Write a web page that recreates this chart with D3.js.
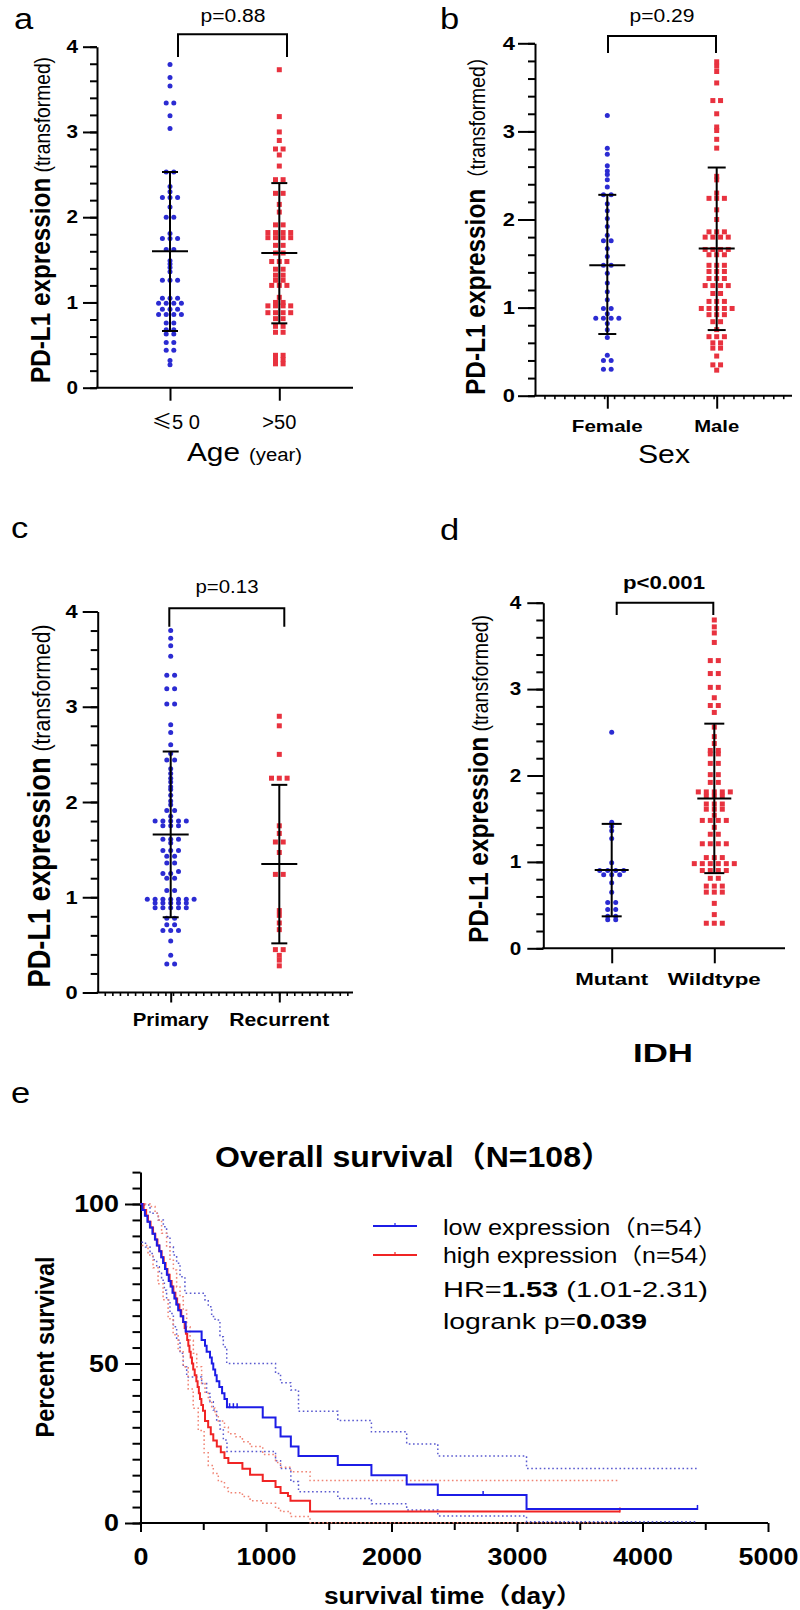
<!DOCTYPE html>
<html><head><meta charset="utf-8">
<script src="https://cdn.jsdelivr.net/npm/d3@7"></script>
<style>
body{margin:0;background:#fff;}
svg{display:block;}
</style></head><body>
<svg id="c" width="800" height="1610"></svg>
<script>
// ---------------- DATA ----------------
const yTicks = [0, 1, 2, 3, 4];

const ageCats = ["≤5 0", ">50"];
const ageLow = [3.79,3.64,3.54,3.34,3.34,3.19,3.04,2.53,2.53,2.36,2.30,2.23,2.23,2.23,2.12,2.00,2.00,1.81,1.75,1.75,1.75,1.62,1.62,1.49,1.45,1.41,1.36,1.26,1.26,1.26,1.05,1.05,1.05,0.99,0.99,0.99,0.99,0.92,0.92,0.92,0.86,0.86,0.86,0.86,0.76,0.76,0.68,0.68,0.63,0.63,0.53,0.53,0.44,0.44,0.32,0.27];
const ageHigh = [3.73,3.18,3.00,2.90,2.80,2.80,2.73,2.60,2.44,2.44,2.28,2.28,2.15,2.06,1.91,1.91,1.82,1.82,1.82,1.82,1.76,1.76,1.76,1.76,1.67,1.67,1.58,1.58,1.48,1.48,1.48,1.39,1.39,1.32,1.32,1.26,1.26,1.20,1.20,1.20,1.06,1.00,1.00,0.96,0.96,0.96,0.96,0.88,0.88,0.88,0.88,0.81,0.81,0.72,0.72,0.65,0.65,0.38,0.38,0.33,0.33,0.28,0.28];
const ageMean = [1.60, 1.58], ageSdLow = [0.665, 0.755], ageSdHigh = [2.53, 2.40];

const sexCats = ["Female", "Male"];
const sexF = [3.18,2.81,2.74,2.61,2.55,2.51,2.45,2.37,2.28,2.28,2.18,2.10,2.01,1.92,1.82,1.76,1.76,1.67,1.58,1.48,1.48,1.39,1.28,1.18,1.09,0.99,0.99,0.93,0.88,0.88,0.88,0.88,0.82,0.75,0.66,0.46,0.40,0.40,0.30,0.30];
const sexM = [3.79,3.74,3.68,3.55,3.35,3.35,3.20,3.05,3.01,2.91,2.81,2.49,2.45,2.30,2.24,2.24,2.24,2.11,2.00,1.86,1.86,1.86,1.80,1.80,1.80,1.80,1.66,1.66,1.66,1.66,1.60,1.60,1.60,1.48,1.48,1.48,1.41,1.41,1.41,1.33,1.33,1.33,1.25,1.25,1.25,1.25,1.16,1.16,1.07,1.07,1.07,0.99,0.99,0.99,0.99,0.99,0.92,0.92,0.92,0.84,0.84,0.75,0.67,0.67,0.67,0.60,0.60,0.54,0.54,0.45,0.35,0.35,0.29];
const sexMean = [1.48, 1.67], sexSdLow = [0.70, 0.745], sexSdHigh = [2.28, 2.59];

const typeCats = ["Primary", "Recurrent"];
const typeP = [3.80,3.72,3.64,3.53,3.33,3.33,3.19,3.19,3.03,3.03,2.81,2.73,2.60,2.51,2.44,2.44,2.35,2.30,2.25,2.21,2.16,2.13,2.07,2.01,1.97,1.91,1.91,1.85,1.80,1.80,1.80,1.80,1.80,1.75,1.75,1.75,1.61,1.61,1.61,1.57,1.49,1.49,1.49,1.43,1.43,1.36,1.36,1.27,1.25,1.25,1.20,1.20,1.07,1.07,0.98,0.98,0.98,0.98,0.98,0.98,0.98,0.94,0.94,0.94,0.94,0.94,0.89,0.89,0.89,0.89,0.89,0.78,0.78,0.71,0.71,0.65,0.65,0.65,0.54,0.39,0.30,0.30];
const typeR = [2.90,2.80,2.50,2.25,2.25,2.25,1.75,1.67,1.58,1.58,1.47,1.24,1.24,0.86,0.81,0.73,0.66,0.45,0.45,0.39,0.34,0.28];
const typeMean = [1.66, 1.35], typeSdLow = [0.79, 0.516], typeSdHigh = [2.53, 2.18];

const idhCats = ["Mutant", "Wildtype"];
const idhMut = [2.50,1.46,1.41,1.36,1.27,0.99,0.90,0.90,0.90,0.90,0.85,0.85,0.85,0.76,0.65,0.53,0.53,0.45,0.45,0.37,0.37,0.33,0.33];
const idhWt = [3.80,3.72,3.65,3.54,3.33,3.33,3.18,3.18,3.02,3.02,2.90,2.81,2.81,2.73,2.56,2.45,2.37,2.29,2.29,2.25,2.25,2.14,2.14,2.01,2.01,1.92,1.92,1.81,1.81,1.81,1.81,1.81,1.76,1.76,1.76,1.67,1.67,1.67,1.61,1.61,1.61,1.54,1.48,1.48,1.48,1.48,1.40,1.32,1.32,1.21,1.21,1.21,1.21,1.05,1.05,1.05,0.98,0.98,0.98,0.98,0.98,0.98,0.90,0.90,0.90,0.90,0.81,0.81,0.72,0.72,0.72,0.65,0.65,0.65,0.52,0.39,0.29,0.29,0.29];
const idhMean = [0.907, 1.735], idhSdLow = [0.37, 0.87], idhSdHigh = [1.44, 2.60];

// Kaplan-Meier (time in days, percent survival)
const kmXTicks = [0, 1000, 2000, 3000, 4000, 5000];
const kmYTicks = [0, 50, 100];
const lowTime = [0,15,35,55,75,95,115,130,150,165,180,195,210,225,240,255,270,285,300,320,340,360,487,514,527,554,568,580,595,607,628,650,669,689,974,1076,1116,1198,1259,1572,1840,2121,2369,3076];
const lowSurv = [100,98.1,96.3,94.4,92.6,90.7,88.9,87.0,85.2,83.3,81.5,79.6,77.8,75.9,74.1,72.2,70.4,68.5,66.7,64.8,63.0,60.0,57.4,55.6,53.7,51.9,50.0,48.1,46.3,44.4,42.6,40.7,38.9,36.3,33.1,30.0,27.1,24.0,21.0,18.2,15.0,12.1,8.8,4.4];
const lowEnd = 4438;
const lowCensor = [710, 740, 770, 2730, 4438];
const highTime = [0,25,45,60,80,100,118,135,150,168,185,200,215,232,248,262,278,292,310,325,340,352,362,372,381,390,400,410,420,432,445,455,465,474,485,498,514,539,560,580,608,640,669,700,812,873,974,1076,1116,1175,1195,1351];
const highSurv = [100,98.1,96.3,94.4,92.6,90.7,88.9,87.0,85.2,83.3,81.5,79.6,77.8,75.9,74.1,72.2,70.4,68.5,66.7,64.8,63.0,61.1,59.3,57.4,55.6,53.7,51.9,50.0,48.1,46.3,44.4,42.6,40.7,38.9,37.0,35.2,32.0,30.0,27.8,25.9,24.0,22.2,20.4,18.8,17.0,15.1,13.2,11.3,9.4,8.5,7.0,3.6];
const highEnd = 3820;
const highCensor = [3820];
const lowUpperTime = [0,22,76,142,182,208,235,262,288,315,354,514,540,567,594,633,660,687,1076,1116,1198,1259,1572,1840,2121,2369,3076];
const lowUpperSurv = [100,99.7,97.1,95.0,92.9,89.8,86.6,84.0,81.4,77.2,72.0,69.9,67.8,64.7,63.6,58.4,55.2,50.0,46.9,44.0,41.7,35.0,32.1,28.6,24.8,21.0,17.1];
const lowLowerTime = [8,40,76,100,129,150,168,190,208,235,262,288,315,341,368,487,527,554,580,607,633,660,689,1076,1116,1198,1259,1572,1840,2121,2369,3076];
const lowLowerSurv = [88,86.5,84.5,82.5,80.3,78.5,76.1,73.0,69.9,65.7,61.5,57.3,53.2,49.0,45.8,43.7,40.6,38.0,35.4,32.0,29.5,26.0,22.4,19.5,17.1,13.0,9.8,7.7,6.0,4.1,2.2,0.4];
const highUpperTime = [0,76,116,142,168,208,235,262,288,315,341,368,395,421,448,487,514,540,567,594,620,669,700,760,812,873,974,1076,1116,1198,1351];
const highUpperSurv = [100,99.2,97.1,95.0,90.8,86.6,82.4,79.3,74.0,70.9,66.7,61.5,57.3,53.2,49.0,43.7,41.0,38.5,36.0,34.0,32.0,30.0,28.0,27.0,25.5,24.0,21.5,19.0,17.5,16.1,13.3];
const highLowerTime = [10,60,100,140,180,220,260,300,340,380,420,460,507,540,580,620,669,700,812,873,974,1076,1116,1195,1351];
const highLowerSurv = [87,84,80,75,70,64,59,54,49,42,36,29,22,18,15.5,13,11,9.5,8.3,7.0,6.2,4.6,3.6,2.0,0.1];

// ---------------- DRAWING ----------------
const FONT = 'Arial, "Liberation Sans", "Noto Sans CJK SC", sans-serif';
const BLUE = "#2b2bd2", RED = "#e8323f";
const svg = d3.select("#c").attr("font-family", FONT);

function fitText(sel, len) {
  if (len) sel.attr("textLength", len).attr("lengthAdjust", "spacingAndGlyphs");
  return sel;
}
function stretch(sel, k) {
  sel.each(function () {
    const L = this.getComputedTextLength();
    d3.select(this).attr("textLength", L * k).attr("lengthAdjust", "spacingAndGlyphs");
  });
}
function label(g, str, x, y, o) {
  const t = g.append("text").attr("x", x).attr("y", y)
    .attr("text-anchor", o.anchor || "middle")
    .attr("font-size", o.size).attr("font-weight", o.weight || "normal")
    .attr("fill", "#000").text(str);
  fitText(t, o.len);
  if (!o.len && o.k) stretch(t, o.k);
  return t;
}

function swarm(vals, y, cx, colW, thr) {
  const s = vals.slice().sort((a, b) => a - b);
  const rows = []; let cur = null;
  s.forEach(v => {
    if (cur && Math.abs(y(v) - y(cur[0])) <= thr) cur.push(v);
    else { cur = [v]; rows.push(cur); }
  });
  const pts = [];
  rows.forEach(r => r.forEach((v, i) => pts.push({ v, x: cx + (i - (r.length - 1) / 2) * colW, y: y(v) })));
  return pts;
}

function strip(c) {
  const g = svg.append("g");
  const y = d3.scaleLinear().domain([0, 4]).range([c.y0, c.y4]);
  const x = d3.scalePoint().domain(c.cats).range(c.catX);

  const mn = g.append("g").attr("transform", `translate(${c.ax},0)`)
    .call(d3.axisLeft(y).tickValues(d3.range(0, 4.001, 0.2)).tickSize(7).tickSizeOuter(0).tickFormat(""));
  mn.select(".domain").remove();
  const mj = g.append("g").attr("transform", `translate(${c.ax},0)`)
    .call(d3.axisLeft(y).tickValues(yTicks).tickSize(c.tl).tickSizeOuter(0).tickPadding(c.tp).tickFormat(d3.format("d")));
  mj.attr("font-size", c.tf).attr("font-family", FONT);
  g.selectAll(".tick line, .domain").attr("stroke", "#000").attr("stroke-width", 2);
  mj.selectAll("text").style("font-size", c.tf + "px").attr("font-weight", "bold").attr("fill", "#000");
  stretch(mj.selectAll("text"), 1.15);

  g.append("line").attr("x1", c.ax - 1).attr("x2", c.xEnd).attr("y1", c.y0).attr("y2", c.y0)
    .attr("stroke", "#000").attr("stroke-width", 2);
  if (c.xMinor) {
    const n = Math.floor((c.xEnd - c.ax) / c.xMinor);
    d3.range(1, n + 1).forEach(i => {
      g.append("line").attr("x1", c.ax + i * c.xMinor).attr("x2", c.ax + i * c.xMinor)
        .attr("y1", c.y0).attr("y2", c.y0 + 3.5).attr("stroke", "#000").attr("stroke-width", 1.6);
    });
  }
  const xa = g.append("g").attr("transform", `translate(0,${c.y0})`)
    .call(d3.axisBottom(x).tickSize(c.ctl).tickSizeOuter(0).tickFormat(""));
  xa.select(".domain").remove();
  xa.selectAll(".tick line").attr("stroke", "#000").attr("stroke-width", 2);

  c.series.forEach((vals, i) => {
    const pts = swarm(vals, y, x(c.cats[i]), c.colW, 2.5);
    if (i === 0) {
      g.append("g").selectAll("circle").data(pts).join("circle")
        .attr("cx", d => d.x).attr("cy", d => d.y).attr("r", 2.5).attr("fill", BLUE);
    } else {
      g.append("g").selectAll("rect").data(pts).join("rect")
        .attr("x", d => d.x - 2.5).attr("y", d => d.y - 2.5).attr("width", 5).attr("height", 5).attr("fill", RED);
    }
  });
  c.cats.forEach((cat, i) => {
    const cx = x(cat);
    const ln = (x1, y1, x2, y2) => g.append("line").attr("x1", x1).attr("y1", y1).attr("x2", x2).attr("y2", y2)
      .attr("stroke", "#000").attr("stroke-width", 2);
    ln(cx, y(c.lo[i]), cx, y(c.hi[i]));
    ln(cx - c.capW, y(c.lo[i]), cx + c.capW, y(c.lo[i]));
    ln(cx - c.capW, y(c.hi[i]), cx + c.capW, y(c.hi[i]));
    ln(cx - c.meanW, y(c.mean[i]), cx + c.meanW, y(c.mean[i]));
  });
  g.append("path").attr("d", `M${c.br[0]},${c.br[3]}V${c.br[2]}H${c.br[1]}V${c.br[3]}`)
    .attr("fill", "none").attr("stroke", "#000").attr("stroke-width", 2);
  label(g, c.p, c.pPos[0], c.pPos[1], { size: c.pSize, weight: c.pWeight, len: c.pLen });

  c.cats.forEach((cat, i) => {
    const t = g.append("text").attr("x", x(cat) + (c.catDx ? c.catDx[i] : 0)).attr("y", c.catY)
      .attr("text-anchor", "middle").attr("font-size", c.catSize).attr("font-weight", c.catWeight).attr("fill", "#000");
    if (cat.startsWith("≤")) {
      t.append("tspan").attr("font-family", '"Noto Sans CJK SC"').text("≤");
      t.append("tspan").text(cat.slice(1));
    } else t.text(cat);
    fitText(t, c.catLen[i]);
  });

  const yl = g.append("text").attr("text-anchor", "middle").attr("fill", "#000")
    .attr("transform", `translate(${c.yl[0]},${c.yl[1]}) scale(1.15,1) rotate(-90)`);
  yl.append("tspan").attr("font-weight", "bold").attr("font-size", c.ylSize[0]).text("PD-L1 expression");
  yl.append("tspan").attr("font-size", c.ylSize[1]).text(c.ylTail);
  fitText(yl, c.yl[2]);

  label(g, c.letter[0], c.letter[1], c.letter[2], { anchor: "start", size: 30, k: 1.15 });
  return g;
}

const ga = strip({
  cats: ageCats, series: [ageLow, ageHigh], mean: ageMean, lo: ageSdLow, hi: ageSdHigh,
  ax: 97, y0: 387.7, y4: 46.7, xEnd: 353, catX: [170, 279.3], tl: 14, tp: 5, tf: 18, ctl: 13,
  colW: 7.6, capW: 8, meanW: 18, br: [178, 287, 34.3, 57], p: "p=0.88", pPos: [233, 22], pSize: 18, pLen: 65,
  catY: 429, catSize: 20, catWeight: "normal", catLen: [48, 34], catDx: [6, 0],
  yl: [50, 220, 326], ylSize: [24, 19], ylTail: " (transformed)", letter: ["a", 14, 29]
});
ga.append("text").attr("x", 187).attr("y", 461).attr("font-size", 25).attr("fill", "#000").text("Age")
  .attr("textLength", 53).attr("lengthAdjust", "spacingAndGlyphs");
ga.append("text").attr("x", 249).attr("y", 461).attr("font-size", 18).attr("fill", "#000").text("(year)")
  .attr("textLength", 53).attr("lengthAdjust", "spacingAndGlyphs");

const gb = strip({
  cats: sexCats, series: [sexF, sexM], mean: sexMean, lo: sexSdLow, hi: sexSdHigh,
  ax: 535, y0: 395.7, y4: 43.3, xEnd: 792, catX: [607.3, 716.7], tl: 17, tp: 3, tf: 19, ctl: 13,
  xMinor: 9.95, colW: 7.7, capW: 9, meanW: 18, br: [608, 716, 36, 53], p: "p=0.29", pPos: [662, 22], pSize: 18, pLen: 65,
  catY: 432, catSize: 17, catWeight: "bold", catLen: [71, 45],
  yl: [485, 221, 348], ylSize: [24, 19], ylTail: "（transformed）", letter: ["b", 440, 29]
});
label(gb, "Sex", 664, 463, { size: 25, len: 52 });

const gc = strip({
  cats: typeCats, series: [typeP, typeR], mean: typeMean, lo: typeSdLow, hi: typeSdHigh,
  ax: 97.7, y0: 992.5, y4: 611.5, xEnd: 353, catX: [170.7, 279.3], tl: 15, tp: 5, tf: 19, ctl: 10,
  xMinor: 7.58, colW: 7.8, capW: 8, meanW: 18, br: [169.3, 284.3, 608.3, 626.7], p: "p=0.13", pPos: [227, 593], pSize: 18, pLen: 63,
  catY: 1026, catSize: 18, catWeight: "bold", catLen: [76, 100], catDx: [0, 0],
  yl: [50, 806, 363], ylSize: [27, 21], ylTail: " (transformed)", letter: ["c", 11, 538]
});

const gd = strip({
  cats: idhCats, series: [idhMut, idhWt], mean: idhMean, lo: idhSdLow, hi: idhSdHigh,
  ax: 543.3, y0: 948.3, y4: 602.7, xEnd: 785, catX: [611.7, 714.3], tl: 16, tp: 6, tf: 18, ctl: 15,
  colW: 8, capW: 10, meanW: 17, br: [616.7, 713.3, 602.7, 615], p: "p<0.001", pPos: [664, 589], pSize: 19, pWeight: "bold", pLen: 82,
  catY: 985, catSize: 17, catWeight: "bold", catLen: [73, 93],
  yl: [488, 779, 328], ylSize: [24.5, 19.5], ylTail: " (transformed)", letter: ["d", 440, 540]
});
label(gd, "IDH", 663, 1062, { size: 26, weight: "bold", len: 60 });

// ---------------- Panel e: Kaplan–Meier ----------------
const ge = svg.append("g");
const kx = d3.scaleLinear().domain([0, 5000]).range([140.5, 768]);
const ky = d3.scaleLinear().domain([0, 110]).range([1523, 1172.1]);

const eyMinor = ge.append("g").attr("transform", "translate(140.5,0)")
  .call(d3.axisLeft(ky).tickValues(d3.range(0, 110.1, 5)).tickSize(8).tickSizeOuter(0).tickFormat(""));
const eyMajor = ge.append("g").attr("transform", "translate(140.5,0)")
  .call(d3.axisLeft(ky).tickValues(kmYTicks).tickSize(15.5).tickSizeOuter(0).tickPadding(6).tickFormat(d3.format("d")));
eyMajor.select(".domain").remove();
const exMinor = ge.append("g").attr("transform", "translate(0,1523)")
  .call(d3.axisBottom(kx).tickValues(d3.range(500, 5000, 1000)).tickSize(7).tickSizeOuter(0).tickFormat(""));
exMinor.select(".domain").remove();
const exMajor = ge.append("g").attr("transform", "translate(0,1523)")
  .call(d3.axisBottom(kx).tickValues(kmXTicks).tickSize(9).tickSizeOuter(0).tickPadding(16).tickFormat(d3.format("d")));
exMajor.select(".domain").attr("d", `M${kx(0) - 1},0H${kx(5000)}`);
ge.selectAll(".tick line, .domain").attr("stroke", "#000").attr("stroke-width", 2);
ge.selectAll(".tick text").style("font-size", "24px").attr("font-weight", "bold").attr("font-family", FONT).attr("fill", "#000");
stretch(ge.selectAll(".tick text"), 1.12);

function stepPts(times, surv, end) {
  const p = times.map((t, i) => [t, surv[i]]);
  p.push([end, surv[surv.length - 1]]);
  return p;
}
const stepLine = d3.line().x(d => kx(d[0])).y(d => ky(d[1])).curve(d3.curveStepAfter);
function ciPath(times, surv, end, color) {
  ge.append("path").attr("d", stepLine(stepPts(times, surv, end))).attr("fill", "none")
    .attr("stroke", color).attr("stroke-width", 1.5).attr("stroke-dasharray", "1.6,2.6");
}
const BLUE_CI = "#5a5ad0", RED_CI = "#f08474";
ciPath(lowUpperTime, lowUpperSurv, lowEnd, BLUE_CI);
ciPath(lowLowerTime, lowLowerSurv, lowEnd, BLUE_CI);
ciPath(highUpperTime, highUpperSurv, highEnd, RED_CI);
ciPath(highLowerTime, highLowerSurv, highEnd, RED_CI);

function kmCurve(times, surv, end, censor, color) {
  ge.append("path").attr("d", stepLine(stepPts(times, surv, end))).attr("fill", "none")
    .attr("stroke", color).attr("stroke-width", 2);
  censor.forEach(t => {
    let s = surv[0];
    times.forEach((tt, i) => { if (tt <= t) s = surv[i]; });
    ge.append("line").attr("x1", kx(t)).attr("x2", kx(t)).attr("y1", ky(s) - 4).attr("y2", ky(s) + 1)
      .attr("stroke", color).attr("stroke-width", 1.5);
  });
}
const KM_BLUE = "#1c1ce6", KM_RED = "#f02424";
kmCurve(highTime, highSurv, highEnd, highCensor, KM_RED);
kmCurve(lowTime, lowSurv, lowEnd, lowCensor, KM_BLUE);

const tt = ge.append("text").attr("x", 414).attr("y", 1167).attr("text-anchor", "middle")
  .attr("font-size", 29).attr("font-weight", "bold").attr("fill", "#000").text("Overall survival（N=108）");
fitText(tt, 398);
const xt = ge.append("text").attr("x", 453).attr("y", 1604).attr("text-anchor", "middle")
  .attr("font-size", 23).attr("font-weight", "bold").attr("fill", "#000").text("survival time（day）");
fitText(xt, 258);
ge.append("text").attr("text-anchor", "middle").attr("fill", "#000").attr("font-size", 23).attr("font-weight", "bold")
  .attr("transform", "translate(54,1347) scale(1.15,1) rotate(-90)").text("Percent survival")
  .attr("textLength", 181).attr("lengthAdjust", "spacingAndGlyphs");

[[1226, KM_BLUE], [1255, KM_RED]].forEach(([yy, col]) => {
  ge.append("line").attr("x1", 373).attr("x2", 417).attr("y1", yy).attr("y2", yy).attr("stroke", col).attr("stroke-width", 2);
  ge.append("line").attr("x1", 395).attr("x2", 395).attr("y1", yy - 3).attr("y2", yy).attr("stroke", col).attr("stroke-width", 1.2);
});
function legText(y, parts, len) {
  const t = ge.append("text").attr("x", 443).attr("y", y).attr("font-size", 22).attr("fill", "#000");
  parts.forEach(([s, b]) => t.append("tspan").attr("font-weight", b ? "bold" : "normal").text(s));
  fitText(t, len);
}
legText(1235, [["low expression（n=54）", false]], 275);
legText(1263, [["high expression（n=54）", false]], 280);
legText(1297, [["HR=", false], ["1.53", true], [" (1.01-2.31)", false]], 265);
legText(1329, [["logrank p=", false], ["0.039", true]], 204);
label(ge, "e", 11, 1103, { anchor: "start", size: 30, k: 1.15 });
</script>
</body></html>
